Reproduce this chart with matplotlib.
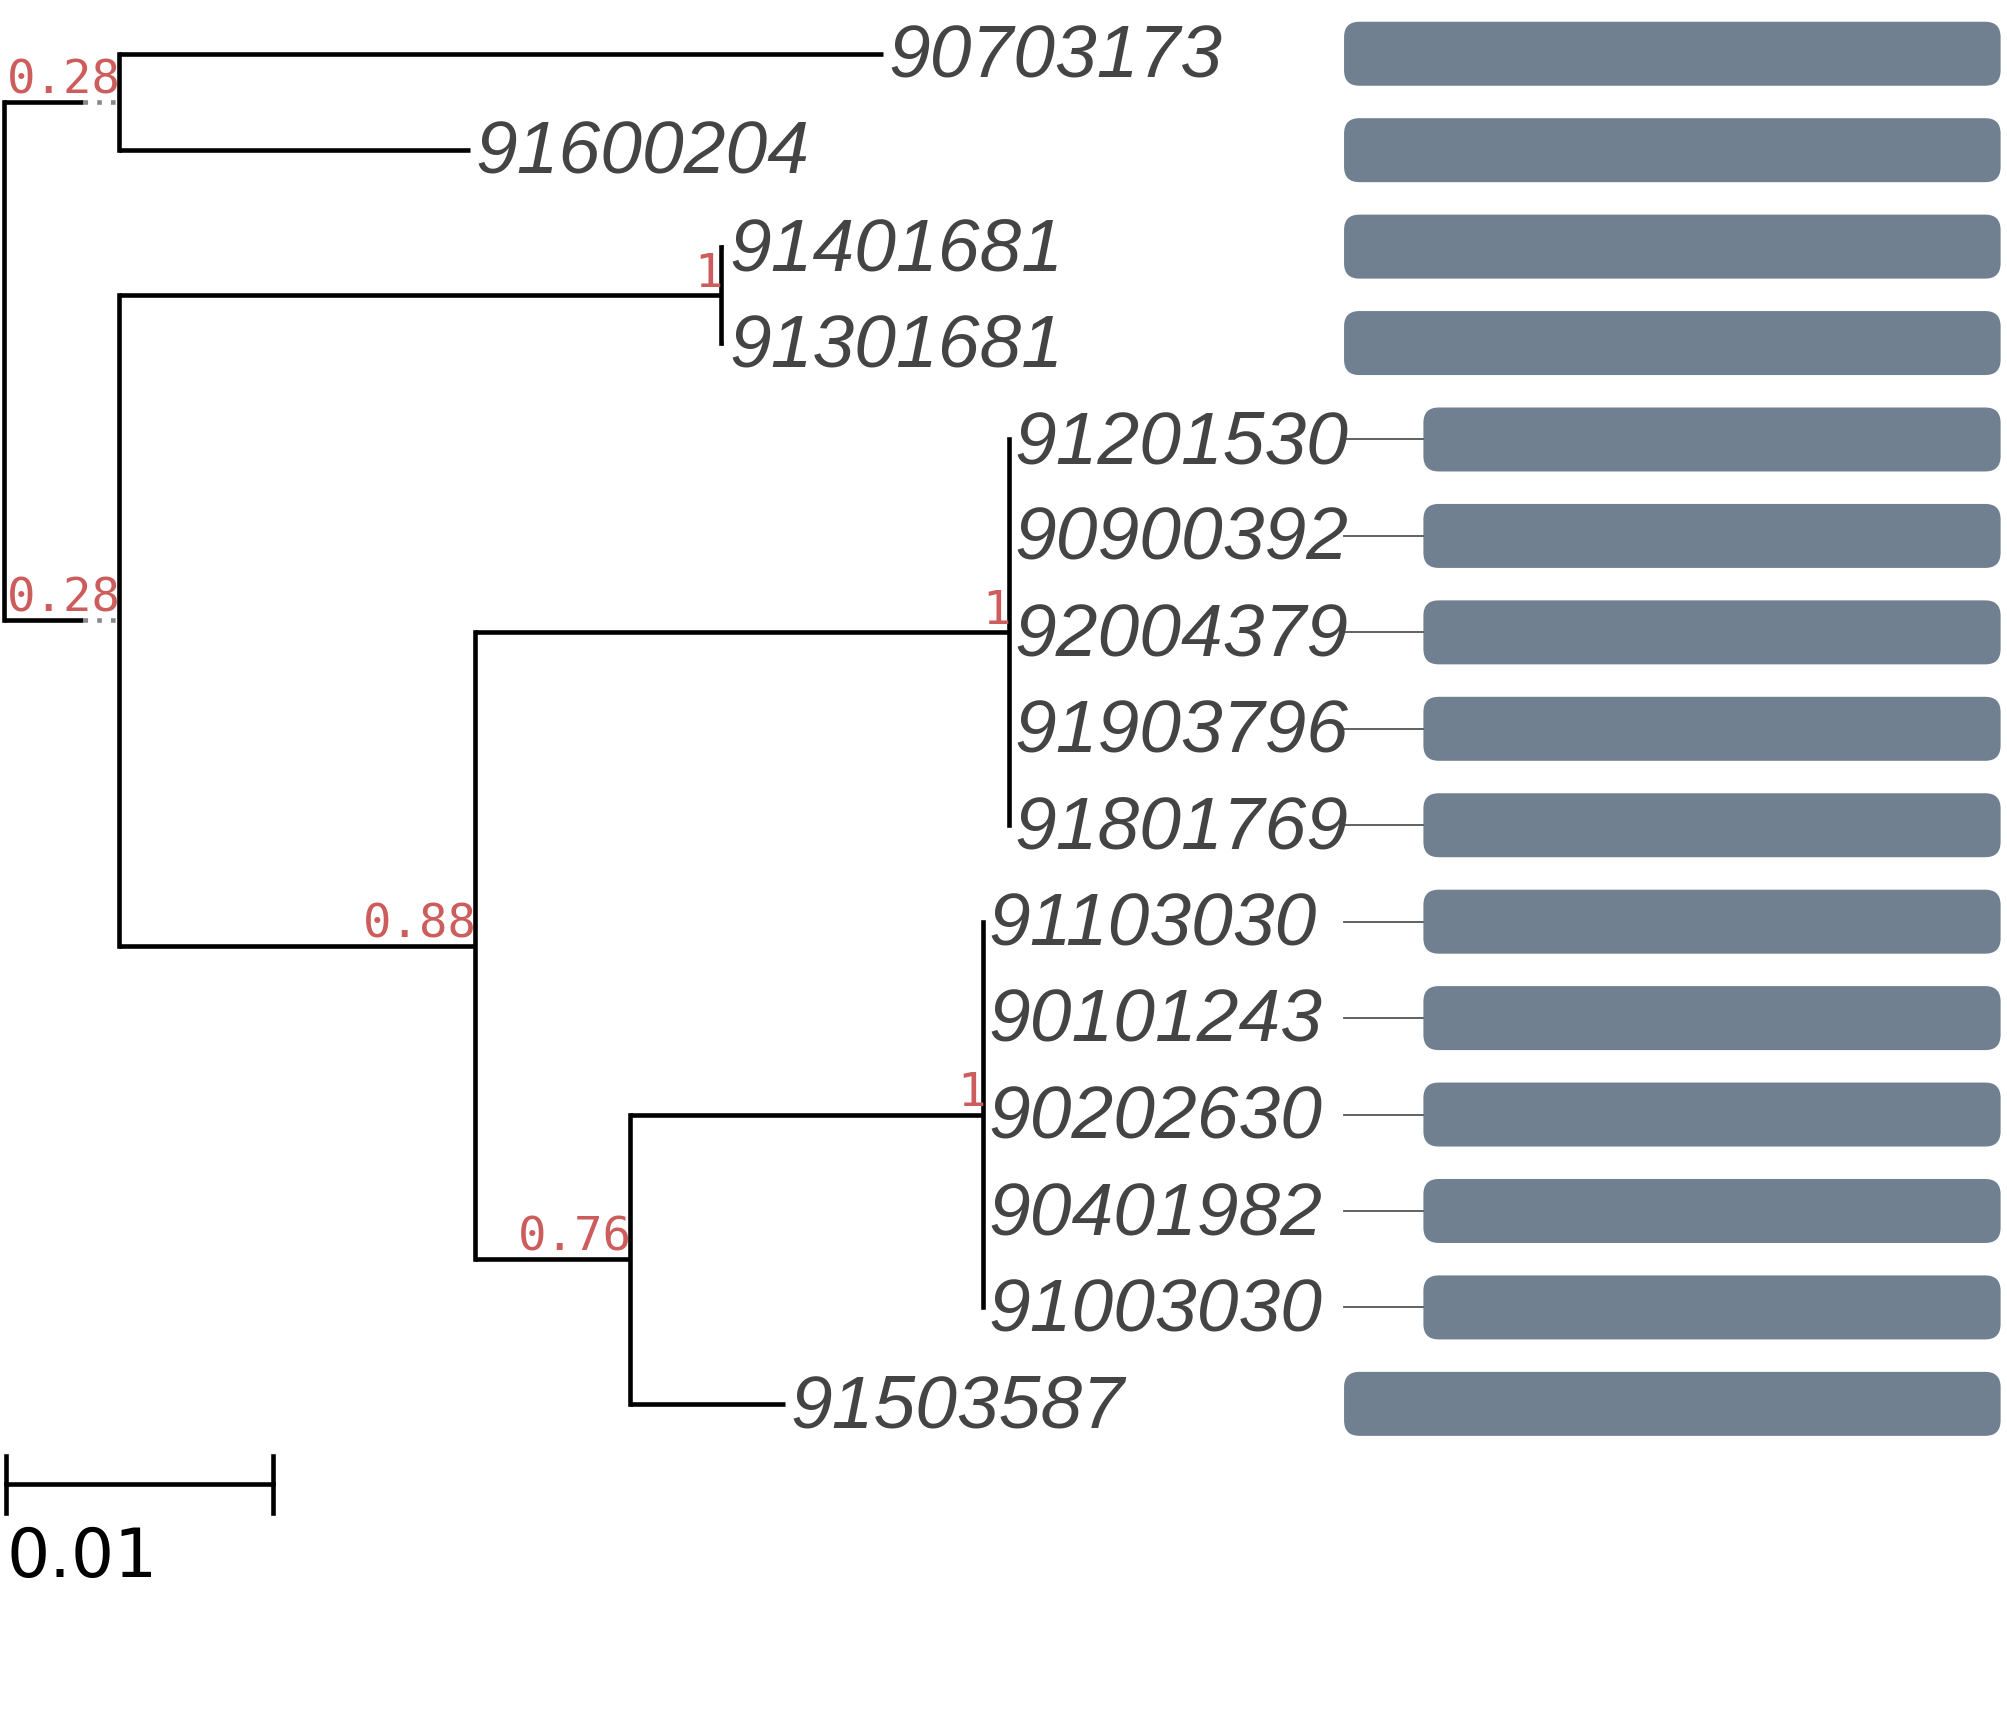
import numpy as np
import matplotlib
matplotlib.use("Agg")
import matplotlib.pyplot as plt
from matplotlib.patches import FancyBboxPatch

# ── tree data: parent / branch length / support ─────────────────────────────
NODES = ["root", "A", "B", "C", "D", "E", "F", "G",
         "90703173", "91600204", "91401681", "91301681",
         "91201530", "90900392", "92004379", "91903796", "91801769",
         "91103030", "90101243", "90202630", "90401982", "91003030",
         "91503587"]
PARENTS = [None, "root", "root", "B", "B", "D", "D", "F",
           "A", "A", "C", "C",
           "E", "E", "E", "E", "E",
           "G", "G", "G", "G", "G",
           "F"]
BLENS = [0.0, 0.00433, 0.00433, 0.02260, 0.01337, 0.02005, 0.00582, 0.01327,
         0.02870, 0.01317, 0.00010, 0.00010,
         0.0, 0.0, 0.0, 0.0, 0.0,
         0.0, 0.0, 0.0, 0.0, 0.0,
         0.00582]
SUPPORT = {"A": "0.28", "B": "0.28", "C": "1", "D": "0.88",
           "E": "1", "F": "0.76", "G": "1"}
TIP_ORDER = ["90703173", "91600204", "91401681", "91301681",
             "91201530", "90900392", "92004379", "91903796", "91801769",
             "91103030", "90101243", "90202630", "90401982", "91003030",
             "91503587"]
# tips whose bars sit after a short connector line
CONNECTED = [False, False, False, False,
             True, True, True, True, True,
             True, True, True, True, True,
             False]
BAR_END = [0.0750] * 15

SCALE_LEN = 0.01
ROOT_SOLID = 0.00298        # solid part of the root edges, rest is dotted
PANEL_X = 0.05034
CONNECT_LEN = 0.00298

PX = SCALE_LEN / 208        # data units per reference pixel (x)
ROW_PX = 75.36              # reference pixels per tip row

# ── layout ──────────────────────────────────────────────────────────────────
par = dict(zip(NODES, PARENTS))
bl = dict(zip(NODES, BLENS))
children = {n: [c for c in NODES if par[c] == n] for n in NODES}

xpos = {}
def get_x(n):
    if n not in xpos:
        xpos[n] = 0.0 if par[n] is None else get_x(par[n]) + bl[n]
    return xpos[n]
for n in NODES:
    get_x(n)

ypos = {t: i + 1 for i, t in enumerate(TIP_ORDER)}
def get_y(n):
    if n not in ypos:
        ypos[n] = np.mean([get_y(c) for c in children[n]])
    return ypos[n]
for n in NODES:
    get_y(n)

# ── figure ──────────────────────────────────────────────────────────────────
fig = plt.figure(figsize=(20.07, 17.25), dpi=100)
ax = fig.add_axes([0, 0, 1, 1])
ax.set_xlim(-3 * PX, 1565 * PX)
ax.set_ylim(1 + (1348 - 42) / ROW_PX, 1 - 42 / ROW_PX)
ax.axis("off")

LW = 3.3
for n in NODES:
    p = par[n]
    if p is None or bl[n] == 0:
        continue
    if par[p] is None:
        ax.plot([xpos[p], xpos[p] + ROOT_SOLID], [ypos[n], ypos[n]],
                color="black", lw=LW, solid_capstyle="butt")
        ax.plot([xpos[p] + ROOT_SOLID, xpos[n]], [ypos[n], ypos[n]],
                color="#888888", lw=LW, ls=(0, (1, 2)))
    else:
        ax.plot([xpos[p], xpos[n]], [ypos[n], ypos[n]],
                color="black", lw=LW, solid_capstyle="butt")
for n in NODES:
    kids = children[n]
    if kids:
        ys = [ypos[c] for c in kids]
        ax.plot([xpos[n], xpos[n]], [min(ys), max(ys)],
                color="black", lw=LW, solid_capstyle="projecting")

# support values
for n, s in SUPPORT.items():
    ax.annotate(s, (xpos[n], ypos[n]), xytext=(1.5, 6), textcoords="offset points",
                ha="right", va="baseline", color="#CD5C5C", fontsize=34,
                family="DejaVu Sans Mono")

# tip labels
for t in TIP_ORDER:
    ax.annotate(t, (xpos[t], ypos[t]), xytext=(4, -3), textcoords="offset points",
                ha="left", va="center", color="#444444", fontsize=54,
                style="italic", family="Liberation Sans")

# bars and connectors
bar_h = 50 / ROW_PX
r = 12 * PX
asp = (1 / ROW_PX) / PX
for t, con, end in zip(TIP_ORDER, CONNECTED, BAR_END):
    y = ypos[t]
    x0 = PANEL_X
    if con:
        ax.plot([PANEL_X, PANEL_X + CONNECT_LEN], [y, y], color="#555555", lw=1.3)
        x0 = PANEL_X + CONNECT_LEN
    ax.add_patch(FancyBboxPatch((x0, y - bar_h / 2), end - x0, bar_h,
                                boxstyle=f"round,pad=0,rounding_size={r}",
                                mutation_aspect=asp, fc="#708090", ec="none"))

# scale bar
sy = 1 + (1160 - 42) / ROW_PX
tick = 22 / ROW_PX
x0s = 2 * PX
ax.plot([x0s, x0s + SCALE_LEN], [sy, sy], color="black", lw=LW)
for xx in (x0s, x0s + SCALE_LEN):
    ax.plot([xx, xx], [sy - tick, sy + tick], color="black", lw=LW)
ax.text(x0s, 1 + (1232 - 42) / ROW_PX, f"{SCALE_LEN:g}", ha="left", va="baseline",
        fontsize=49, family="DejaVu Sans", color="black")

fig.savefig("out.png", dpi=100)
